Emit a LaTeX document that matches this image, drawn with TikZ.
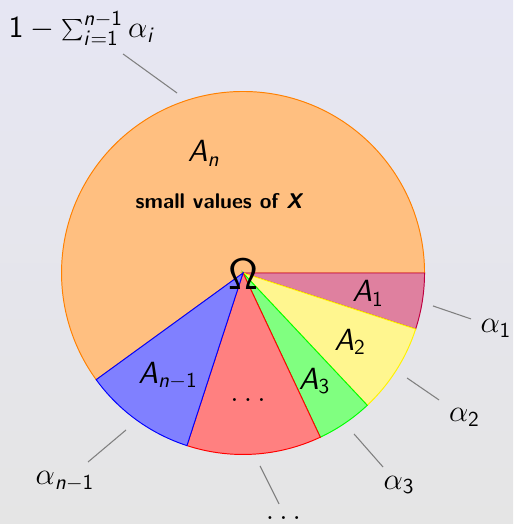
\documentclass[tikz,border=0pt]{standalone}
\usepackage{xcolor}
\usepackage{tikz}
\renewcommand{\familydefault}{\sfdefault}
% sans math letters and digits, as on a slide
\DeclareSymbolFont{operators}{OT1}{cmss}{m}{n}
\SetSymbolFont{operators}{bold}{OT1}{cmss}{bx}{n}
\DeclareSymbolFont{sfslant}{OT1}{cmss}{m}{sl}
\SetSymbolFont{sfslant}{bold}{OT1}{cmss}{bx}{n}
\DeclareMathSymbol{A}{\mathalpha}{sfslant}{`A}
\DeclareMathSymbol{X}{\mathalpha}{sfslant}{`X}
\DeclareMathSymbol{n}{\mathalpha}{sfslant}{`n}
\DeclareMathSymbol{i}{\mathalpha}{sfslant}{`i}
\definecolor{bgtop}{RGB}{230,230,243}
\definecolor{bgbot}{RGB}{229,229,229}
\definecolor{ylw}{RGB}{255,246,143}

\begin{document}
\begin{tikzpicture}[
 sec/.style={line width=0.45pt},
 ldr/.style={gray,line width=0.5pt},
 lbl/.style={font=\Large,inner sep=1pt},
 txt/.style={font=\normalsize\bfseries,inner sep=1pt}]
\useasboundingbox (-4.017,-4.149) rectangle (4.463,4.512);
\shade[top color=bgtop,bottom color=bgbot] (-4.017,-4.149) rectangle (4.463,4.512);
\coordinate (O) at (0,0);
% sectors
\filldraw[sec,fill=orange!50,draw=orange] (O) -- (0:3) arc[start angle=0,end angle=216,radius=3] -- cycle;
\filldraw[sec,fill=purple!50,draw=purple] (O) -- (0:3) arc[start angle=0,end angle=-18,radius=3] -- cycle;
\filldraw[sec,fill=ylw,draw=yellow] (O) -- (-18:3) arc[start angle=-18,end angle=-46.8,radius=3] -- cycle;
\filldraw[sec,fill=green!50,draw=green] (O) -- (-46.8:3) arc[start angle=-46.8,end angle=-64.8,radius=3] -- cycle;
\filldraw[sec,fill=red!50,draw=red] (O) -- (-64.8:3) arc[start angle=-64.8,end angle=-108,radius=3] -- cycle;
\filldraw[sec,fill=blue!50,draw=blue] (O) -- (-108:3) arc[start angle=-108,end angle=-144,radius=3] -- cycle;
% texts inside
\node[lbl] (an) at (-0.645,1.975) {$A_n$};
\node[txt] (sv) at (-0.388,1.190) {small values of \textsl{X}};
\node[lbl] (a1) at (2.066,-0.339) {$A_1$};
\node[lbl] (a2) at (1.769,-1.140) {$A_2$};
\node[lbl] (a3) at (1.182,-1.785) {$A_3$};
\node[lbl,anchor=base] (ad) at (0.083,-2.132) {$\dots$};
\node[lbl] (am) at (-1.240,-1.702) {$A_{n-1}$};
\node[font=\huge,inner sep=0pt] (om) at (0,-0.017) {$\Omega$};
% outside labels
\node[lbl] (pn) at (-2.661,4.041) {$1-\sum_{i=1}^{n-1}\alpha_i$};
\node[lbl] (p1) at (4.182,-0.917) {$\alpha_1$};
\node[lbl] (p2) at (3.661,-2.388) {$\alpha_2$};
\node[lbl] (p3) at (2.579,-3.504) {$\alpha_3$};
\node[lbl,anchor=base] (pd) at (0.669,-4.07) {$\dots$};
\node[lbl] (pm) at (-2.942,-3.446) {$\alpha_{n-1}$};
% leader lines
\coordinate (qn) at (-1.983,3.620); \coordinate (rn) at (-1.091,2.975);
\coordinate (q1) at (3.140,-0.545); \coordinate (r1) at (3.769,-0.760);
\coordinate (q2) at (2.711,-1.736); \coordinate (r2) at (3.240,-2.099);
\coordinate (q3) at (1.835,-2.661); \coordinate (r3) at (2.314,-3.207);
\coordinate (qd) at (0.281,-3.190); \coordinate (rd) at (0.595,-3.818);
\coordinate (qm) at (-1.934,-2.595); \coordinate (rm) at (-2.562,-3.124);
\draw[ldr] (qn) -- (rn);
\draw[ldr] (q1) -- (r1);
\draw[ldr] (q2) -- (r2);
\draw[ldr] (q3) -- (r3);
\draw[ldr] (qd) -- (rd);
\draw[ldr] (qm) -- (rm);
\end{tikzpicture}
\end{document}
